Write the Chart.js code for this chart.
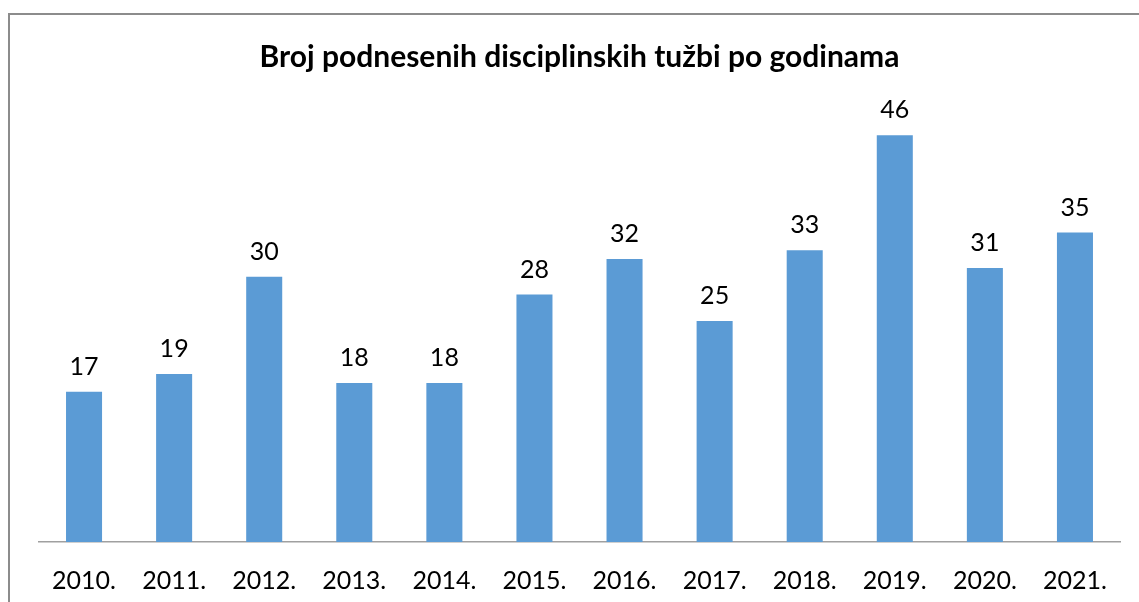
<!DOCTYPE html>
<html>
<head>
<meta charset="utf-8">
<script src="https://cdn.jsdelivr.net/npm/chart.js@4"></script>
<style>
html,body{margin:0;padding:0;background:#fff;overflow:hidden;}
#wrap{position:relative;width:1139px;height:602px;}
#frame{position:absolute;left:8px;top:13px;width:1300px;height:800px;border:2px solid #8c8c8c;box-sizing:border-box;}
canvas{position:absolute;left:0;top:0;}
</style>
</head>
<body>
<div id="wrap">
<div id="frame"></div>
<canvas id="c" width="1139" height="602"></canvas>
</div>
<script>
const categories = ["2010.","2011.","2012.","2013.","2014.","2015.","2016.","2017.","2018.","2019.","2020.","2021."];
const values = [17,19,30,18,18,28,32,25,33,46,31,35];
const titleText = "Broj podnesenih disciplinskih tužbi po godinama";

const labelPlugin = {
  id: 'valueLabels',
  afterDatasetsDraw(chart) {
    const ctx = chart.ctx;
    const meta = chart.getDatasetMeta(0);
    ctx.save();
    ctx.font = '25px Lato';
    ctx.fillStyle = '#000';
    ctx.textAlign = 'center';
    ctx.textBaseline = 'middle';
    meta.data.forEach((bar, i) => {
      ctx.fillText(String(values[i]), bar.x, bar.y - 25);
    });
    ctx.restore();
  }
};

new Chart(document.getElementById('c'), {
  type: 'bar',
  data: {
    labels: categories,
    datasets: [{
      data: values,
      backgroundColor: '#5B9BD5',
      borderWidth: 0,
      barPercentage: 0.4,
      categoryPercentage: 1.0
    }]
  },
  options: {
    responsive: false,
    animation: false,
    layout: { padding: { left: 39, right: 19, top: 0, bottom: 0 } },
    plugins: {
      legend: { display: false },
      tooltip: { enabled: false },
      title: {
        display: true,
        text: titleText,
        color: '#000',
        font: { family: 'Lato', size: 30, weight: 'bold', lineHeight: 1.2 },
        padding: { top: 39, bottom: 25 }
      }
    },
    scales: {
      x: {
        grid: { display: false },
        border: { display: true, color: '#a0a0a0', width: 1.5 },
        ticks: { color: '#000', font: { family: 'Lato', size: 25 }, padding: 16, maxRotation: 0, autoSkip: false },
        afterFit(scale) { scale.height = 60; }
      },
      y: {
        display: false,
        min: 0,
        max: 50
      }
    }
  },
  plugins: [labelPlugin]
});
</script>
</body>
</html>
